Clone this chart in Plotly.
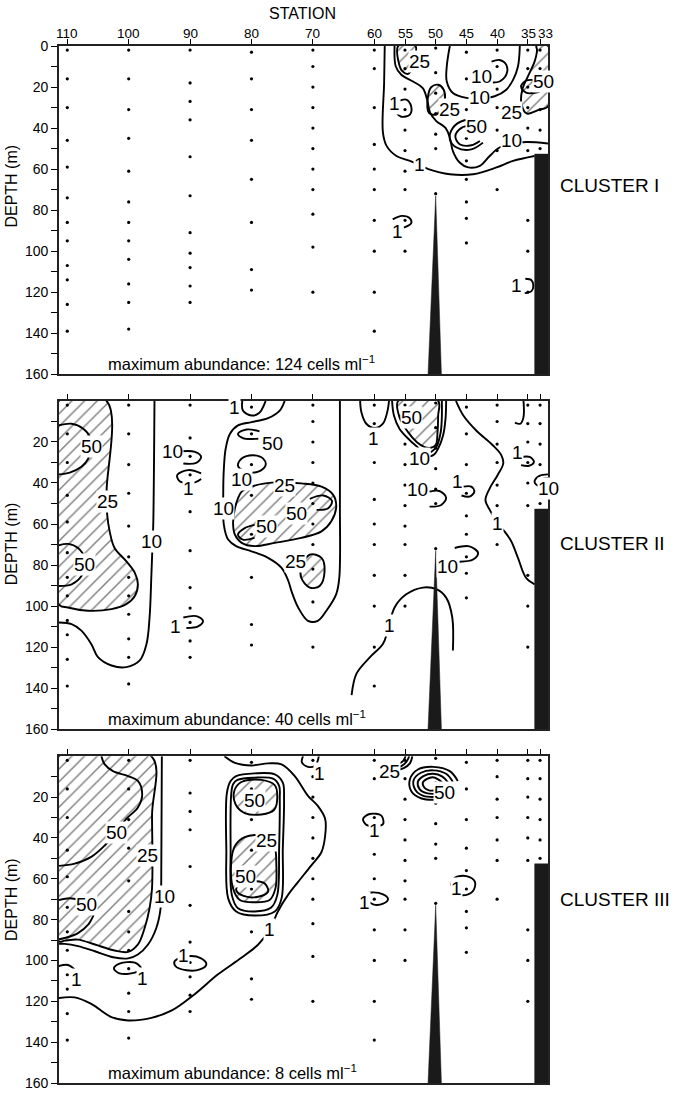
import plotly.graph_objects as go

# ---------------------------------------------------------------- data
STATIONS = [110, 100, 90, 80, 70, 60, 55, 50, 45, 40, 35, 33]

# sampling depths (m) at each station
depths_110 = [2, 16, 30, 46, 59, 74, 86, 95, 107, 114, 126, 139]
depths_100 = [2, 16, 31, 45, 61, 76, 86, 95, 104, 116, 125, 138]
depths_90 = [2, 18, 27, 36, 54, 73, 91, 101, 108, 117, 125]
depths_80 = [3, 16, 31, 46, 65, 86, 109, 119]
depths_70 = [2, 10, 20, 30, 40, 50, 60, 70, 82, 98, 120]
depths_60 = [2, 11, 30, 48, 60, 70, 85, 100, 120, 139]
depths_55 = [2, 11, 21, 31, 41, 51, 61, 70, 85, 100]
depths_50 = [1, 13, 23, 33, 43, 50, 72]
depths_45 = [3, 16, 31, 45, 56, 65, 76, 84, 96]
depths_40 = [2, 10, 21, 30, 41, 51, 70]
depths_35 = [2, 11, 20, 30, 40, 51, 85, 100, 120]
depths_33 = [2, 11, 21, 31, 41, 50]
SAMPLE_DEPTHS = [depths_110, depths_100, depths_90, depths_80, depths_70, depths_60,
                 depths_55, depths_50, depths_45, depths_40, depths_35, depths_33]

# bottom topography
ridge_station = [51.25, 50.0, 49.07]
ridge_depth = [160, 73, 160]
shelf_station = [33.88, 33.88, 31.5, 31.5]
shelf_depth = [160, 52.7, 52.7, 160]

MAX_ABUNDANCE = [124, 40, 8]
CLUSTERS = ["CLUSTER I", "CLUSTER II", "CLUSTER III"]

# ---------------------------------------------------------------- isolines, cluster I  (station, depth)
c1_one = [(58.3, 0), (58.4, 18), (58.6, 42), (58.0, 48.7), (56.4, 53.6), (54.2, 56), (51.2, 60),
          (47.7, 62.5), (43.9, 62.5), (40.1, 59.2), (37.4, 56), (33.9, 53.6)]
c1_ten = [(56.7, 0), (56.5, 10), (55.6, 14), (53.7, 17.3), (52.1, 20.5), (51.4, 26.1), (50.9, 32.6),
          (49.9, 36.6), (48.4, 39.9), (47.7, 44.7), (47.2, 51.2), (46.1, 56.8), (44.7, 59.2),
          (42.8, 58.4), (41.2, 53.6), (39.6, 49.5), (37.4, 47.5), (35.2, 46.8), (31.7, 47.5)]
c1_ten_mid = [(47.7, 0), (48.2, 10), (48.2, 17.3), (47.2, 22.9), (45.0, 25.3), (42.8, 25.6),
              (40.4, 24.5), (38.5, 21.3), (37.4, 16.5), (36.6, 10), (36.3, 0)]
c1_ten_loop = [(40.9, 7.6), (39.6, 6.8), (38.5, 9.2), (38.5, 14), (39.6, 17.3), (40.7, 17.8)]
c1_one_loop_a = [(56.1, 26.9), (54.8, 26.1), (54.0, 29.4), (54.2, 33.4), (55.6, 34.5), (56.4, 32.6)]
c1_one_loop_b = [(57.0, 84.5), (55.5, 82.8), (54.2, 84.0), (54.0, 86.5), (55.2, 88.5)]
c1_one_loop_c = [(35.4, 113.5), (34.4, 114.2), (34.1, 117), (34.4, 119.5), (35.5, 120.5)]
c1_fifty_a = [(42.8, 36.6), (45.3, 36.2), (47.2, 39.9), (47.7, 45.5), (46.6, 49.5), (44.2, 50.4), (42.3, 47.1)]
c1_fifty_b = [(44.2, 38.7), (45.8, 39.9), (46.8, 43.9), (46.1, 47.9), (44.2, 48.4), (42.8, 46.3)]
c1_fifty_east = [(33.1, 17.0), (35.2, 16.8), (36.1, 19.8), (35.2, 22.9), (33.1, 22.3)]
c1_hatch_55 = [(56.1, 0), (56.0, 8.4), (55.4, 12.4), (54.5, 13.6), (54.0, 12.0), (53.5, 7), (53.3, 0)]
c1_hatch_50 = [(51.1, 32.6), (51.25, 24.5), (50.7, 20), (49.6, 18.9), (48.7, 21.3), (48.5, 26.1),
               (49.1, 31), (49.9, 33.4)]
c1_hatch_east = [(33.6, 0), (31.7, 0), (31.7, 29.4), (33.1, 31), (35.2, 32.9), (36.05, 27.8),
                 (35.9, 21.3), (35.0, 14.9), (33.9, 7.6), (33.5, 1.9)]
c1_labels = [("25", 52.6, 7.6), ("10", 42.6, 14.9), ("10", 42.8, 25.3), ("25", 47.7, 31.0),
             ("50", 43.4, 39.1), ("10", 37.7, 46.3), ("25", 37.7, 32.6), ("50", 30.6, 17.5),
             ("1", 56.7, 27.8), ("1", 52.6, 57.6), ("1", 56.2, 90.5), ("1", 36.8, 116.7)]

# ---------------------------------------------------------------- isolines, cluster II
c2_hatch_west = [(111.4, 0), (103.6, 0), (103.6, 44.2), (103.5, 55.5), (103.1, 63.6), (102.3, 71.7),
                 (100.4, 78.1), (99.0, 83.8), (98.5, 89.4), (99.0, 95.1), (100.4, 99.1), (102.8, 101.5),
                 (106.6, 102.3), (109.9, 100.7), (111.4, 99.1)]
c2_fifty_a = [(111.4, 11.9), (109.3, 11.1), (107.4, 13.5), (106.3, 17.6), (106.2, 22.4), (106.6, 28.1),
              (107.7, 32.1), (109.6, 34.9), (111.4, 35.8)]
c2_fifty_b = [(111.4, 70.4), (109.9, 69.7), (108.25, 71.7), (107.2, 76.5), (107.2, 79.7), (107.7, 85.4),
              (109.3, 89.4), (111.4, 90.2)]
c2_ten_west = [(95.8, 0), (96.0, 60.4), (96.1, 68.4), (96.3, 84.6), (96.6, 105.6), (97.1, 118.5),
               (98.2, 126.5), (100.4, 129.8), (102.8, 129), (105.0, 124.9), (106.1, 118.5),
               (107.7, 112), (109.3, 108.8), (111.4, 108)]
c2_ten_loop_90 = [(91.4, 24.5), (89.2, 24.8), (88.2, 27.3), (89.0, 30.2), (91.1, 30.5)]
c2_one_loop_90a = [(88.2, 35.3), (90.3, 33.7), (92.1, 36.1), (91.7, 39.1), (89.2, 39.7), (88.2, 38.1)]
c2_one_loop_90b = [(91.1, 105.6), (89.0, 104.9), (87.9, 107.2), (88.7, 109.9), (90.6, 110.7)]
c2_one_cap_80 = [(81.5, 0), (81.4, 4.7), (80.0, 7.1), (78.7, 5.8), (78.0, 2.2), (77.7, 0)]
c2_ten_big = [(74.6, 0), (75.4, 4.7), (77.3, 8.4), (80.0, 10.3), (82.2, 11.9), (83.5, 16), (84.2, 23.2),
              (84.5, 32.9), (84.6, 44.2), (84.5, 60.4), (83.8, 67.6), (82.5, 70.8), (80.0, 73.3),
              (77.3, 76.5), (75.1, 81.4), (74.0, 87.8), (73.5, 92.6), (72.4, 100.7), (70.8, 107.2),
              (69.2, 107.2), (67.8, 102.3), (66.2, 94.2), (65.7, 86.2), (65.6, 50), (65.6, 0)]
c2_fifty_80 = [(78.7, 14.8), (80.8, 13.9), (82.2, 16), (81.4, 18.1), (78.9, 18.4)]
c2_ten_loop_80 = [(79.7, 26.5), (78.1, 28.1), (77.7, 31.3), (78.9, 34.5), (81.1, 34.2), (82.2, 31.6),
                  (81.6, 28.1)]
c2_hatch_75 = [(81.6, 44.2), (79.5, 41.3), (76.2, 39.7), (71.9, 40.2), (68.6, 41.8), (66.7, 45.8),
               (66.2, 51.5), (67.0, 58.7), (68.6, 63.6), (71.9, 66.8), (76.2, 69.2), (79.5, 70.8),
               (81.6, 69.2), (82.7, 65.2), (83.0, 59.6), (82.7, 52.3), (82.2, 47.5)]
c2_fifty_70 = [(70.5, 47.7), (68.3, 46.1), (66.9, 48.7), (67.5, 52.3), (69.4, 53.1)]
c2_fifty_79 = [(79.5, 60.4), (81.1, 62), (82.2, 65.2), (81.4, 67.6), (79.5, 66.8)]
c2_hatch_70 = [(70.5, 74.9), (68.6, 76.5), (68.1, 83), (68.9, 90.2), (70.5, 91), (71.9, 86.2), (71.9, 81.4)]
c2_one_cap_60 = [(62.3, 0), (62.1, 5.5), (61.3, 11.1), (59.9, 13.2), (58.6, 11.1), (57.9, 5.5), (57.6, 0)]
c2_ten_55 = [(57.1, 0), (56.8, 7.1), (55.9, 13.5), (54.2, 19.2), (53.0, 22.4), (52.0, 25.6),
             (51.0, 27.0), (50.2, 26.0), (49.6, 23.2), (48.8, 16.8), (48.4, 8.7), (48.3, 0)]
c2_hatch_55 = [(56.1, 0), (55.9, 7.9), (54.5, 15.2), (53.1, 20), (51.8, 22.5), (50.8, 22.8),
               (50.0, 21.6), (49.7, 15.2), (49.6, 7.1), (49.6, 0)]
c2_mid_55 = [(49.0, 0), (49.0, 8), (49.2, 15.5), (49.9, 22.5), (50.8, 25)]
c2_ten_loop_50 = [(51.0, 44.2), (49.4, 43.9), (48.3, 47.1), (49.1, 50.7), (51.0, 51.5)]
c2_one_loop_45 = [(45.5, 41.8), (44.2, 41.8), (43.7, 44.2), (44.5, 46.6), (45.8, 46.1)]
c2_ten_loop_45 = [(46.9, 71.7), (44.5, 70.9), (43.1, 74.1), (43.9, 77.3), (46.1, 78.4)]
c2_one_east = [(46.7, 0), (45.5, 7.1), (43.4, 14.4), (40.7, 21.6), (39.3, 26.5), (39.0, 30.5),
               (39.9, 36.1), (41.2, 42.6), (41.9, 48.3), (41.2, 53.1), (39.9, 59.6), (38.8, 63.6),
               (37.7, 68.4), (36.6, 76.5), (35.3, 86.2), (33.9, 89.4)]
c2_one_hook_35 = [(35.7, 0), (35.7, 7.9), (36.2, 11.1), (37.1, 10.6)]
c2_one_loop_35 = [(36.1, 27.3), (34.7, 27.3), (34.0, 29.7), (34.8, 31.6), (36.1, 31.3)]
c2_ten_arc_33a = [(31.7, 35.8), (33.1, 36.5), (33.9, 39.4), (33.1, 41.8), (31.7, 42.6)]
c2_ten_arc_33b = [(31.7, 37.6), (32.6, 38.0), (33.0, 39.4), (32.6, 40.6), (31.7, 41.0)]
c2_one_deep = [(63.7, 143.5), (62.9, 133), (60.7, 124.9), (58.6, 118.5), (57.8, 112), (56.7, 100.7),
               (54.8, 94.3), (52.1, 91), (49.9, 91.8), (48.3, 95.9), (47.3, 105.6), (47.2, 121.7)]
c2_labels = [("50", 106.0, 22.4), ("25", 103.4, 49.1), ("50", 107.2, 79.7), ("10", 96.3, 68.4),
             ("10", 92.8, 24.8), ("1", 90.3, 42.9), ("1", 92.4, 110.1), ("1", 82.7, 3.0),
             ("50", 76.5, 20.8), ("10", 81.6, 38.1), ("10", 84.6, 52.3), ("25", 74.6, 41.0),
             ("50", 72.7, 54.7), ("50", 77.6, 61.2), ("25", 72.9, 78.1), ("1", 60.2, 18.4),
             ("50", 54.0, 7.9), ("10", 52.6, 28.1), ("10", 52.9, 43.4), ("1", 46.4, 39.4),
             ("10", 48.0, 80.5), ("1", 39.9, 59.6), ("1", 36.6, 25.3), ("10", 29.7, 42.6),
             ("1", 57.6, 109.6)]

# ---------------------------------------------------------------- isolines, cluster III
c3_hatch_west = [(111.4, 0), (96.3, 0), (96.2, 29.1), (96.2, 64.7), (96.6, 74.4), (97.4, 84.1),
                 (98.5, 92.2), (100.1, 95.8), (102.3, 95.1), (105.5, 92.2), (108.25, 89.8),
                 (110.4, 90.3), (111.4, 90.6)]
c3_ten_west = [(94.6, 0), (94.7, 61.5), (94.8, 74.4), (95.5, 84.1), (96.85, 92.2), (98.5, 97.1),
               (100.1, 99.0), (102.55, 98.4), (105.5, 95.5), (108.25, 93.0), (110.4, 91.9), (111.4, 91.9)]
c3_fifty_a = [(104.45, 0), (103.9, 4.0), (102.55, 7.3), (100.1, 9.7), (98.5, 12.1), (97.8, 18.6),
              (98.5, 25.1), (100.4, 30.7), (102.0, 37.2), (103.9, 43.7), (106.1, 49.3),
              (108.8, 52.6), (111.4, 53.7)]
c3_fifty_b1 = [(111.4, 70.4), (109.6, 69.5), (108.0, 70.3)]
c3_fifty_b2 = [(105.7, 77.7), (106.6, 82.5), (108.25, 86.6), (110.4, 89.0), (111.4, 89.6)]
c3_one_big = [(84.4, 0), (82.7, 3.2), (80.0, 4.5), (77.3, 3.5), (75.1, 4.0), (72.96, 9.7), (70.8, 19.4),
              (69.2, 24.3), (68.0, 30.7), (68.0, 38.8), (68.6, 46.9), (70.25, 53.4), (72.4, 61.5),
              (74.05, 67.9), (75.7, 76.0), (77.05, 85.0), (78.9, 92.2), (81.65, 98.7), (85.45, 106.8),
              (89.25, 116.5), (93.05, 124.6), (96.3, 128.1), (100.1, 129.4), (102.8, 127.8),
              (106.1, 121.3), (108.8, 118.1), (111.4, 118.4)]
c3_one_cap_70 = [(71.6, 0), (71.8, 2.9), (70.8, 5.2), (69.6, 4.5), (69.15, 1.6), (69.05, 0)]
c3_one_loop_100 = [(99.0, 101.1), (101.5, 101.6), (102.4, 103.9), (101.5, 106.3), (99.0, 106.0), (98.0, 103.9)]
c3_one_arc_110 = [(111.4, 102.7), (109.9, 102.2), (108.8, 104.4)]
c3_one_loop_90 = [(92.5, 100.3), (90.3, 97.9), (88.2, 99.0), (87.35, 101.9), (88.4, 104.4),
                  (90.6, 104.8), (92.4, 102.7)]
c3_ten_80 = [(82.5, 9.7), (79.5, 8.4), (76.2, 8.9), (74.9, 12.9), (74.7, 21.0), (74.9, 45.3),
             (75.1, 69.6), (76.2, 76.0), (79.5, 78.0), (82.5, 76.0), (83.8, 69.6), (84.1, 45.3),
             (84.0, 17.8), (83.4, 12.1)]
c3_inner_80 = [(82.3, 11.6), (79.5, 10.5), (76.5, 11.0), (75.5, 14.5), (75.4, 21.0), (75.5, 45.3),
               (75.8, 68.0), (76.8, 74.1), (79.5, 76.0), (82.2, 74.4), (83.2, 68.0), (83.4, 45.3),
               (83.3, 18.6), (83.0, 13.7)]
c3_hatch_80_top = [(81.65, 12.6), (78.4, 11.6), (76.2, 14.2), (75.8, 20.2), (76.3, 26.2), (78.4, 28.5),
                   (81.1, 27.8), (82.6, 23.5), (82.8, 17.0)]
c3_hatch_80_low = [(81.1, 39.6), (77.85, 39.1), (76.3, 43.7), (75.95, 53.4), (76.1, 64.7), (77.05, 70.4),
                   (79.5, 71.5), (81.9, 70.4), (83.0, 64.7), (83.3, 51.8), (82.7, 44.0)]
c3_fifty_80_low = [(81.9, 62.3), (82.5, 65.5), (81.4, 68.3), (78.9, 68.8), (77.3, 66.3), (77.85, 62.3),
                   (79.2, 61.2)]
c3_ring_1 = [(46.4, 12.1), (47.7, 7.3), (50.4, 5.2), (52.9, 6.5), (54.2, 11.3), (54.0, 17.0), (52.3, 20.7), (49.9, 21.3)]
c3_ring_2 = [(47.2, 12.6), (48.3, 8.6), (50.4, 6.9), (52.4, 8.1), (53.6, 11.8), (53.3, 16.5), (52.0, 19.4), (50.0, 19.9)]
c3_ring_3 = [(48.0, 12.9), (48.9, 10.0), (50.4, 8.6), (52.0, 9.7), (52.9, 12.4), (52.6, 16.2), (51.5, 18.1), (50.2, 18.4)]
c3_ring_4 = [(48.8, 13.3), (49.6, 11.3), (50.5, 10.3), (51.4, 11.1), (52.1, 12.9), (51.8, 15.5), (51.1, 16.7), (50.3, 16.8)]
c3_top_arc_1 = [(53.8, 0), (54.2, 3.5), (55.2, 5.8), (56.5, 6.9)]
c3_top_arc_2 = [(54.3, 0), (54.8, 2.9), (55.6, 4.8), (56.5, 5.65)]
c3_top_arc_3 = [(54.9, 0), (55.3, 2.25), (56.0, 3.7), (56.5, 4.2)]
c3_one_loop_60a = [(58.85, 29.1), (60.75, 28.3), (61.83, 30.7), (61.29, 33.6), (59.66, 34.3), (58.57, 33.2)]
c3_one_loop_60b = [(61.83, 67.9), (60.47, 66.7), (58.57, 67.6), (57.76, 69.9), (58.57, 72.2), (60.2, 72.5)]
c3_one_loop_45 = [(47.45, 63.1), (46.9, 59.5), (45.0, 58.7), (43.6, 61.5), (44.0, 66.3), (45.8, 68.0)]
c3_labels = [("50", 102.0, 37.2), ("25", 97.0, 48.5), ("50", 106.9, 72.8), ("10", 94.1, 68.8),
             ("1", 108.5, 109.2), ("1", 97.8, 108.7), ("1", 91.15, 97.4), ("1", 77.05, 85.0),
             ("1", 68.9, 8.4), ("50", 79.5, 21.8), ("25", 77.5, 41.3), ("50", 81.0, 59.0),
             ("25", 57.5, 7.3), ("50", 48.5, 17.8), ("1", 59.93, 36.4), ("1", 61.56, 71.5),
             ("1", 46.6, 64.7)]

# ---------------------------------------------------------------- drawing
FONT = "Liberation Sans, Arial, sans-serif"
X_RANGE = [111.35, 31.71]
DOMAINS = [[0.6835, 1.0], [0.3413, 0.6577], [0.0, 0.3151]]

fig = go.Figure()


def ax(p):
    return ("x", "y") if p == 1 else ("x%d" % p, "y%d" % p)


def draw(p, pts, hatch=False, close=False, width=1.9):
    xs = [a for a, _ in pts]
    ys = [b for _, b in pts]
    if close or hatch:
        xs.append(xs[0])
        ys.append(ys[0])
    xa, ya = ax(p)
    kw = dict(x=xs, y=ys, xaxis=xa, yaxis=ya, mode="lines", hoverinfo="skip", showlegend=False,
              line=dict(color="black", width=width, shape="spline", smoothing=1.0))
    if hatch:
        kw.update(fill="toself", fillcolor="white",
                  fillpattern=dict(shape="/", size=9, solidity=0.16, fgcolor="black", bgcolor="white"))
    fig.add_trace(go.Scatter(**kw))


# hatched areas first
for p, poly in [(1, c1_hatch_55), (1, c1_hatch_50), (1, c1_hatch_east),
                (2, c2_hatch_west), (2, c2_hatch_75), (2, c2_hatch_70), (2, c2_hatch_55),
                (3, c3_hatch_west), (3, c3_hatch_80_top), (3, c3_hatch_80_low)]:
    draw(p, poly, hatch=True)

open_lines = [
    (1, c1_one), (1, c1_ten), (1, c1_ten_mid), (1, c1_ten_loop), (1, c1_one_loop_a), (1, c1_one_loop_b),
    (1, c1_one_loop_c), (1, c1_fifty_a), (1, c1_fifty_b), (1, c1_fifty_east),
    (2, c2_fifty_a), (2, c2_fifty_b), (2, c2_ten_west), (2, c2_ten_loop_90), (2, c2_one_loop_90a),
    (2, c2_one_loop_90b), (2, c2_one_cap_80), (2, c2_ten_big), (2, c2_fifty_80), (2, c2_fifty_70),
    (2, c2_fifty_79), (2, c2_one_cap_60), (2, c2_ten_55), (2, c2_mid_55), (2, c2_ten_loop_50),
    (2, c2_one_loop_45), (2, c2_ten_loop_45), (2, c2_one_east), (2, c2_one_hook_35),
    (2, c2_one_loop_35), (2, c2_ten_arc_33a), (2, c2_ten_arc_33b), (2, c2_one_deep),
    (3, c3_ten_west), (3, c3_fifty_a), (3, c3_fifty_b1), (3, c3_fifty_b2), (3, c3_one_big),
    (3, c3_one_cap_70), (3, c3_one_arc_110), (3, c3_fifty_80_low),
    (3, c3_ring_1), (3, c3_ring_2), (3, c3_ring_3), (3, c3_ring_4),
    (3, c3_top_arc_1), (3, c3_top_arc_2), (3, c3_top_arc_3),
]
for p, line in open_lines:
    draw(p, line)

closed_lines = [(2, c2_ten_loop_80), (3, c3_one_loop_100), (3, c3_one_loop_90), (3, c3_ten_80),
                (3, c3_inner_80), (3, c3_one_loop_60a), (3, c3_one_loop_60b), (3, c3_one_loop_45)]
for p, line in closed_lines:
    draw(p, line, close=True)

annotations = []
for p in (1, 2, 3):
    xa, ya = ax(p)
    # sampling points
    sx, sy = [], []
    for st, dl in zip(STATIONS, SAMPLE_DEPTHS):
        sx += [st] * len(dl)
        sy += dl
    fig.add_trace(go.Scatter(x=sx, y=sy, xaxis=xa, yaxis=ya, mode="markers", hoverinfo="skip",
                             showlegend=False, cliponaxis=False,
                             marker=dict(color="black", size=3.2)))
    # bottom topography
    for bx, by in [(ridge_station, ridge_depth), (shelf_station, shelf_depth)]:
        fig.add_trace(go.Scatter(x=bx, y=by, xaxis=xa, yaxis=ya, mode="lines", fill="toself",
                                 fillcolor="#1a1a1a", line=dict(color="#1a1a1a", width=0.5),
                                 hoverinfo="skip", showlegend=False))
    annotations.append(dict(x=103.75, y=154.5, xref=xa, yref=ya, xanchor="left", yanchor="middle",
                            showarrow=False, font=dict(family=FONT, size=16.5, color="black"),
                            text="maximum abundance: %d cells ml<sup>\u22121</sup>" % MAX_ABUNDANCE[p - 1]))

for p, labels in [(1, c1_labels), (2, c2_labels), (3, c3_labels)]:
    xa, ya = ax(p)
    for txt, sx, sy in labels:
        xref, xpos = xa, sx
        if sx < X_RANGE[1]:
            # labels just past the last station are placed on the panel's paper scale
            xref = "paper"
            xpos = (X_RANGE[0] - sx) / (X_RANGE[0] - X_RANGE[1])
        annotations.append(dict(x=xpos, y=sy, xref=xref, yref=ya, text=txt, showarrow=False,
                                font=dict(family=FONT, size=19, color="black"),
                                bgcolor="white", borderpad=0))

# station numbers along the top; the two closest ones sit back to back
for st in STATIONS:
    anchor, xpos = "center", st
    if st == 35:
        anchor, xpos = "right", 33.45
    elif st == 33:
        anchor, xpos = "left", 33.45
    annotations.append(dict(x=xpos, y=1.0118, xref="x", yref="paper", text=str(st), showarrow=False,
                            xanchor=anchor, yanchor="middle", borderpad=0,
                            font=dict(family=FONT, size=13.5, color="black")))

# axis titles and cluster names
annotations.append(dict(x=0.498, y=1.031, xref="paper", yref="paper", text="STATION", showarrow=False,
                        font=dict(family=FONT, size=16, color="black"), yanchor="middle"))
for p, yc in zip((1, 2, 3), (0.865, 0.52, 0.177)):
    annotations.append(dict(x=-0.097, y=yc, xref="paper", yref="paper", text="DEPTH (m)", textangle=-90,
                            showarrow=False, font=dict(family=FONT, size=16, color="black"),
                            xanchor="center", yanchor="middle"))
    annotations.append(dict(x=1.02, y=yc, xref="paper", yref="paper", text=CLUSTERS[p - 1],
                            showarrow=False, font=dict(family=FONT, size=19, color="black"),
                            xanchor="left", yanchor="middle"))

layout = dict(width=678, height=1097, margin=dict(l=59, r=130, t=46, b=6),
              plot_bgcolor="white", paper_bgcolor="white", annotations=annotations,
              font=dict(family=FONT, color="black"))
for p in (1, 2, 3):
    xa, ya = ax(p)
    xk = "xaxis" if p == 1 else "xaxis%d" % p
    yk = "yaxis" if p == 1 else "yaxis%d" % p
    layout[xk] = dict(domain=[0, 1], range=X_RANGE, anchor=ya, side="top", tickmode="array",
                      tickvals=STATIONS, showticklabels=False,
                      ticks="outside", ticklen=5, tickwidth=1.2, tickcolor="black",
                      showline=True, linecolor="#222", linewidth=1.8, mirror=True,
                      showgrid=False, zeroline=False)
    major = list(range(0, 161, 20)) if p == 1 else list(range(20, 161, 20))
    layout[yk] = dict(domain=DOMAINS[p - 1], range=[160, 0], anchor=xa, tickmode="array",
                      tickvals=major, ticks="outside", ticklen=6, tickwidth=1.2, tickcolor="black",
                      tickfont=dict(family=FONT, size=14, color="black"),
                      minor=dict(tickmode="array", tickvals=list(range(10, 160, 20)), ticks="outside",
                                 ticklen=6, tickwidth=1.2, tickcolor="black"),
                      showline=True, linecolor="#222", linewidth=1.8, mirror=True,
                      showgrid=False, zeroline=False)
fig.update_layout(**layout)

fig.write_html("out.html")
